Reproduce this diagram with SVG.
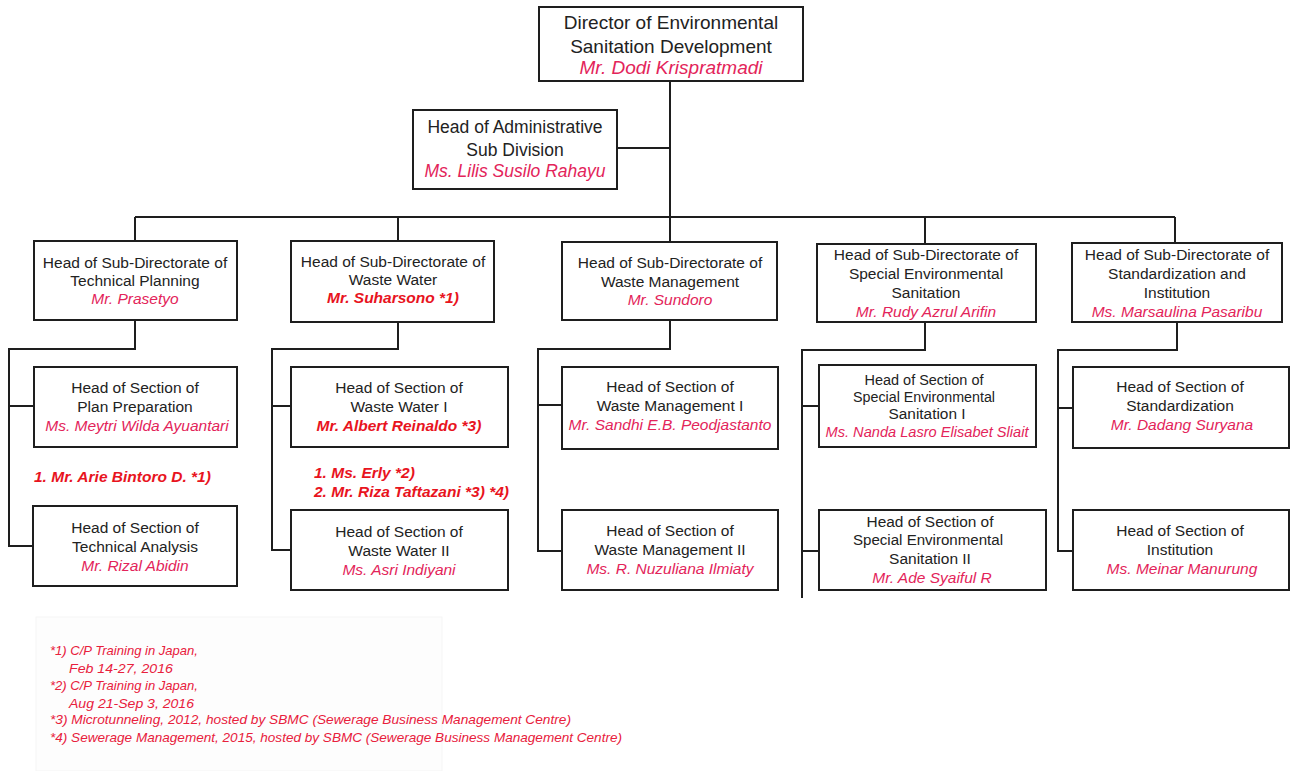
<svg xmlns="http://www.w3.org/2000/svg" width="1290" height="771" viewBox="0 0 1290 771">
  <defs>
    <style>
      .bg { fill: #ffffff; }
      .box { fill: #ffffff; stroke: #1e1e1e; stroke-width: 2; }
      .wire { fill: none; stroke: #1e1e1e; stroke-width: 2; }
      .t { font-family: "Liberation Sans", Arial, sans-serif; font-size: 15.5px; fill: #222222; text-anchor: middle; }
      .n { font-family: "Liberation Sans", Arial, sans-serif; font-size: 15.5px; font-style: italic; fill: #e3245a; text-anchor: middle; }
      .nb { font-family: "Liberation Sans", Arial, sans-serif; font-size: 15.5px; font-style: italic; font-weight: bold; fill: #e8141e; }
      .big { font-size: 19px; }
      .mid { font-size: 17.5px; }
      .note { font-family: "Liberation Sans", Arial, sans-serif; font-size: 13px; font-style: italic; fill: #e8203c; }
      .notebox { fill: #fdfdfd; stroke: #f5f5f5; stroke-width: 1; }
    </style>
  </defs>

  <rect class="bg" x="0" y="0" width="1290" height="771"/>

  <!-- connectors -->
  <g id="connectors">
    <!-- director trunk, admin branch and top bus -->
    <path class="wire" d="M670 81 V242"/>
    <path class="wire" d="M617 148 H670"/>
    <path class="wire" d="M135 217 H1175"/>
    <path class="wire" d="M135 217 V241 M398 217 V241 M925 217 V244 M1175 217 V243"/>
    <!-- column 1 -->
    <path class="wire" d="M135 320 V349 H9 V546 H33 M9 406 H34"/>
    <!-- column 2 -->
    <path class="wire" d="M398 322 V349 H272 V550 H291 M272 406 H291"/>
    <!-- column 3 -->
    <path class="wire" d="M670 320 V349 H538 V551 H562 M538 405 H562"/>
    <!-- column 4 -->
    <path class="wire" d="M925 322 V350 H802 V598 M802 406 H819 M802 551 H819"/>
    <!-- column 5 -->
    <path class="wire" d="M1177 322 V350 H1058 V551 H1073 M1058 408 H1073"/>
  </g>

  <!-- top level -->
  <g id="director">
    <rect class="box" x="539" y="7" width="264" height="74"/>
    <text class="t big" x="671" y="29">Director of Environmental</text>
    <text class="t big" x="671" y="53">Sanitation Development</text>
    <text class="n big" x="671" y="74">Mr. Dodi Krispratmadi</text>
  </g>

  <g id="admin">
    <rect class="box" x="413" y="110" width="204" height="79"/>
    <text class="t mid" x="515" y="133">Head of Administrative</text>
    <text class="t mid" x="515" y="156">Sub Division</text>
    <text class="n mid" x="515" y="177">Ms. Lilis Susilo Rahayu</text>
  </g>

  <!-- sub-directorates -->
  <g id="sd-technical-planning">
    <rect class="box" x="34" y="241" width="203" height="79"/>
    <text class="t" x="135" y="268">Head of Sub-Directorate of</text>
    <text class="t" x="135" y="286">Technical Planning</text>
    <text class="n" x="135" y="304">Mr. Prasetyo</text>
  </g>

  <g id="sd-waste-water">
    <rect class="box" x="291" y="241" width="203" height="81"/>
    <text class="t" x="393" y="267">Head of Sub-Directorate of</text>
    <text class="t" x="393" y="285">Waste Water</text>
    <text class="nb" x="393" y="303" text-anchor="middle">Mr. Suharsono  *1)</text>
  </g>

  <g id="sd-waste-management">
    <rect class="box" x="562" y="242" width="215" height="78"/>
    <text class="t" x="670" y="268">Head of Sub-Directorate of</text>
    <text class="t" x="670" y="287">Waste Management</text>
    <text class="n" x="670" y="305">Mr. Sundoro</text>
  </g>

  <g id="sd-special-sanitation">
    <rect class="box" x="817" y="244" width="219" height="78"/>
    <text class="t" x="926" y="260">Head of Sub-Directorate of</text>
    <text class="t" x="926" y="279">Special Environmental</text>
    <text class="t" x="926" y="298">Sanitation</text>
    <text class="n" x="926" y="317">Mr. Rudy Azrul Arifin</text>
  </g>

  <g id="sd-standardization">
    <rect class="box" x="1072" y="243" width="210" height="79"/>
    <text class="t" x="1177" y="260">Head of Sub-Directorate of</text>
    <text class="t" x="1177" y="279">Standardization  and</text>
    <text class="t" x="1177" y="298">Institution</text>
    <text class="n" x="1177" y="317">Ms. Marsaulina Pasaribu</text>
  </g>

  <!-- sections: technical planning -->
  <g id="sec-plan-preparation">
    <rect class="box" x="34" y="367" width="203" height="80"/>
    <text class="t" x="135" y="393">Head of Section of</text>
    <text class="t" x="135" y="412">Plan Preparation</text>
    <text class="n" x="137" y="431">Ms. Meytri Wilda Ayuantari</text>
  </g>

  <g id="staff-technical-planning">
    <text class="nb" x="34" y="482">1. Mr. Arie Bintoro D. *1)</text>
  </g>

  <g id="sec-technical-analysis">
    <rect class="box" x="33" y="506" width="204" height="80"/>
    <text class="t" x="135" y="533">Head of Section of</text>
    <text class="t" x="135" y="552">Technical Analysis</text>
    <text class="n" x="135" y="571">Mr. Rizal Abidin</text>
  </g>

  <!-- sections: waste water -->
  <g id="sec-waste-water-1">
    <rect class="box" x="291" y="367" width="217" height="80"/>
    <text class="t" x="399" y="393">Head of Section of</text>
    <text class="t" x="399" y="412">Waste Water I</text>
    <text class="nb" x="399" y="431" text-anchor="middle">Mr. Albert Reinaldo  *3)</text>
  </g>

  <g id="staff-waste-water">
    <text class="nb" x="314" y="478">1. Ms. Erly *2)</text>
    <text class="nb" x="314" y="497">2. Mr. Riza Taftazani  *3) *4)</text>
  </g>

  <g id="sec-waste-water-2">
    <rect class="box" x="291" y="510" width="217" height="80"/>
    <text class="t" x="399" y="537">Head of Section of</text>
    <text class="t" x="399" y="556">Waste Water II</text>
    <text class="n" x="399" y="575">Ms. Asri Indiyani</text>
  </g>

  <!-- sections: waste management -->
  <g id="sec-waste-management-1">
    <rect class="box" x="562" y="367" width="216" height="82"/>
    <text class="t" x="670" y="392">Head of Section of</text>
    <text class="t" x="670" y="411">Waste Management  I</text>
    <text class="n" x="670" y="430">Mr. Sandhi E.B. Peodjastanto</text>
  </g>

  <g id="sec-waste-management-2">
    <rect class="box" x="562" y="510" width="216" height="80"/>
    <text class="t" x="670" y="536">Head of Section of</text>
    <text class="t" x="670" y="555">Waste Management  II</text>
    <text class="n" x="670" y="574">Ms. R. Nuzuliana Ilmiaty</text>
  </g>

  <!-- sections: special environmental sanitation -->
  <g id="sec-special-sanitation-1">
    <rect class="box" x="819" y="365" width="217" height="82"/>
    <text class="t" x="924" y="385" textLength="119" lengthAdjust="spacingAndGlyphs">Head of Section of</text>
    <text class="t" x="924" y="402" textLength="142" lengthAdjust="spacingAndGlyphs">Special Environmental</text>
    <text class="t" x="927" y="419" textLength="77" lengthAdjust="spacingAndGlyphs">Sanitation I</text>
    <text class="n" x="927" y="437" textLength="203" lengthAdjust="spacingAndGlyphs">Ms. Nanda Lasro Elisabet Sliait</text>
  </g>

  <g id="sec-special-sanitation-2">
    <rect class="box" x="819" y="510" width="227" height="80"/>
    <text class="t" x="930" y="527" textLength="127" lengthAdjust="spacingAndGlyphs">Head of Section of</text>
    <text class="t" x="928" y="545" textLength="150" lengthAdjust="spacingAndGlyphs">Special Environmental</text>
    <text class="t" x="930" y="564">Sanitation  II</text>
    <text class="n" x="932" y="583">Mr. Ade Syaiful R</text>
  </g>

  <!-- sections: standardization and institution -->
  <g id="sec-standardization">
    <rect class="box" x="1073" y="367" width="216" height="81"/>
    <text class="t" x="1180" y="392">Head of Section of</text>
    <text class="t" x="1180" y="411">Standardization</text>
    <text class="n" x="1182" y="430">Mr. Dadang Suryana</text>
  </g>

  <g id="sec-institution">
    <rect class="box" x="1073" y="510" width="216" height="80"/>
    <text class="t" x="1180" y="536">Head of Section of</text>
    <text class="t" x="1180" y="555">Institution</text>
    <text class="n" x="1182" y="574">Ms. Meinar Manurung</text>
  </g>

  <!-- footnotes -->
  <g id="footnotes">
    <rect class="notebox" x="36" y="617" width="406" height="154"/>
    <text class="note" x="50" y="655" textLength="148" lengthAdjust="spacingAndGlyphs">*1) C/P Training in Japan,</text>
    <text class="note" x="69" y="673" textLength="104" lengthAdjust="spacingAndGlyphs">Feb 14-27,  2016</text>
    <text class="note" x="50" y="690" textLength="148" lengthAdjust="spacingAndGlyphs">*2) C/P Training in Japan,</text>
    <text class="note" x="69" y="708" textLength="125" lengthAdjust="spacingAndGlyphs">Aug 21-Sep 3, 2016</text>
    <text class="note" x="50" y="724" textLength="521" lengthAdjust="spacingAndGlyphs">*3)  Microtunneling, 2012,  hosted by SBMC (Sewerage Business Management Centre)</text>
    <text class="note" x="50" y="742" textLength="572" lengthAdjust="spacingAndGlyphs">*4)  Sewerage  Management, 2015,  hosted by SBMC (Sewerage Business Management Centre)</text>
  </g>
</svg>
